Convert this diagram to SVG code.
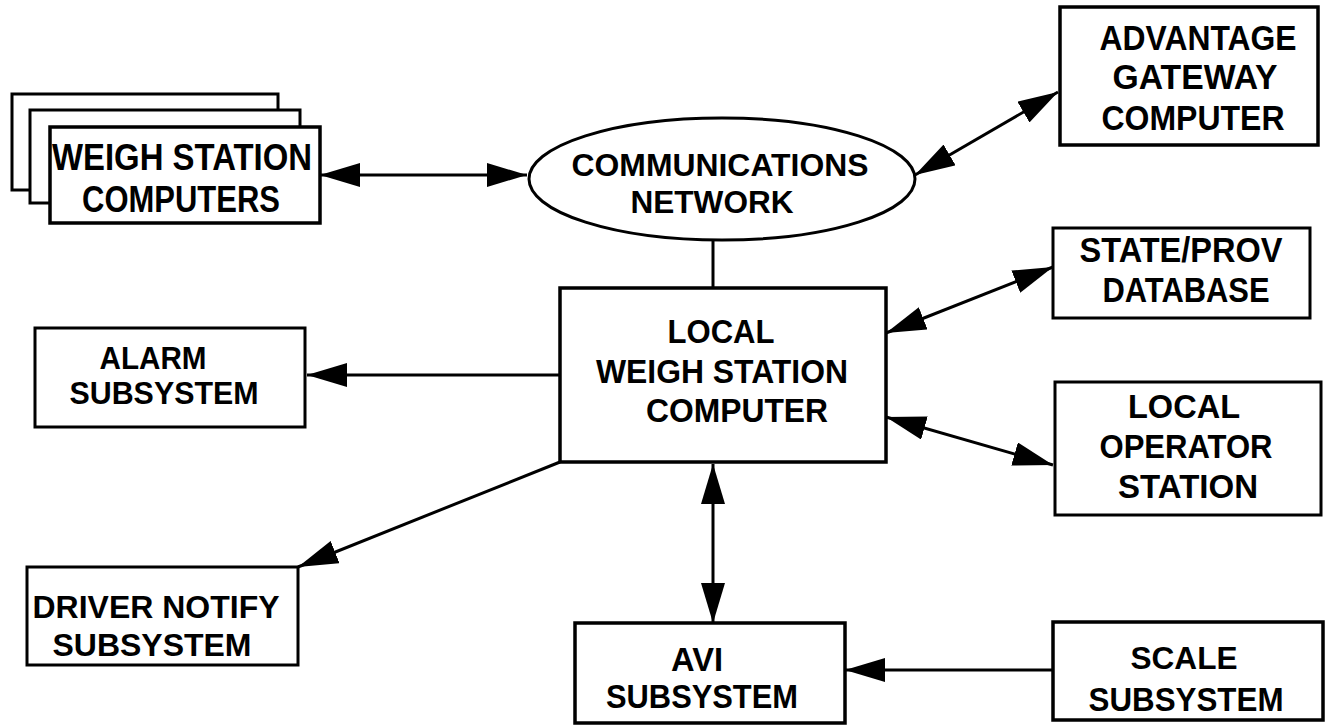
<svg xmlns="http://www.w3.org/2000/svg" width="1325" height="728" viewBox="0 0 1325 728">
  <style>
    .box { fill: #fff; stroke: #000; stroke-width: 3.5; }
    .thin { fill: #fff; stroke: #000; stroke-width: 3; }
    .lbl { font-family: "Liberation Sans", Arial, Helvetica, sans-serif; font-weight: bold; font-size: 34px; text-anchor: middle; fill: #000; }
    .wire { fill: none; stroke: #000; stroke-width: 3; }
  </style>
  <defs>
    <marker id="head" viewBox="0 0 40 24" refX="40" refY="12" markerWidth="40" markerHeight="24" markerUnits="userSpaceOnUse" orient="auto-start-reverse">
      <path d="M0,0 L40,12 L0,24 Z" fill="#000"/>
    </marker>
  </defs>
  <rect width="1325" height="728" fill="#fff"/>

  <!-- connectors -->
  <g id="connectors">
    <line class="wire" x1="320" y1="175" x2="527" y2="175" marker-start="url(#head)" marker-end="url(#head)"/>
    <line class="wire" x1="915" y1="175" x2="1058" y2="92" marker-start="url(#head)" marker-end="url(#head)"/>
    <line class="wire" x1="713" y1="240" x2="713" y2="288"/>
    <line class="wire" x1="886" y1="333" x2="1053" y2="267" marker-start="url(#head)" marker-end="url(#head)"/>
    <line class="wire" x1="886" y1="417" x2="1053" y2="465" marker-start="url(#head)" marker-end="url(#head)"/>
    <line class="wire" x1="713" y1="464" x2="713" y2="623" marker-start="url(#head)" marker-end="url(#head)"/>
    <line class="wire" x1="560" y1="375" x2="307" y2="375" marker-end="url(#head)"/>
    <line class="wire" x1="560" y1="462" x2="298" y2="567" marker-end="url(#head)"/>
    <line class="wire" x1="1053" y1="670" x2="845" y2="670" marker-end="url(#head)"/>
  </g>

  <!-- stacked weigh station computers -->
  <g id="weigh-station-computers">
    <rect class="thin" x="12" y="94" width="266" height="96"/>
    <rect class="thin" x="30" y="110" width="270" height="93"/>
    <rect class="box" x="50" y="127" width="270" height="96"/>
    <text class="lbl" style="font-size:37px" x="182" y="170" textLength="260" lengthAdjust="spacingAndGlyphs">WEIGH STATION</text>
    <text class="lbl" style="font-size:36px" x="181" y="212" textLength="198" lengthAdjust="spacingAndGlyphs">COMPUTERS</text>
  </g>

  <g id="communications-network">
    <ellipse cx="722" cy="179" rx="193" ry="61" fill="#fff" stroke="#000" stroke-width="3"/>
    <text class="lbl" style="font-size:32px" x="720" y="176" textLength="297" lengthAdjust="spacingAndGlyphs">COMMUNICATIONS</text>
    <text class="lbl" style="font-size:32px" x="712" y="213" textLength="163" lengthAdjust="spacingAndGlyphs">NETWORK</text>
  </g>

  <g id="advantage-gateway-computer">
    <rect class="box" x="1060" y="7" width="258" height="138"/>
    <text class="lbl" style="font-size:35px" x="1198" y="50" textLength="197" lengthAdjust="spacingAndGlyphs">ADVANTAGE</text>
    <text class="lbl" style="font-size:35px" x="1195" y="89" textLength="165" lengthAdjust="spacingAndGlyphs">GATEWAY</text>
    <text class="lbl" style="font-size:35px" x="1193" y="130" textLength="183" lengthAdjust="spacingAndGlyphs">COMPUTER</text>
  </g>

  <g id="local-weigh-station-computer">
    <rect class="box" x="560" y="288" width="326" height="174"/>
    <text class="lbl" x="721" y="343" textLength="107" lengthAdjust="spacingAndGlyphs">LOCAL</text>
    <text class="lbl" x="722" y="383" textLength="252" lengthAdjust="spacingAndGlyphs">WEIGH STATION</text>
    <text class="lbl" x="737" y="422" textLength="182" lengthAdjust="spacingAndGlyphs">COMPUTER</text>
  </g>

  <g id="alarm-subsystem">
    <rect class="thin" x="35" y="328" width="270" height="99"/>
    <text class="lbl" style="font-size:32px" x="153" y="369" textLength="107" lengthAdjust="spacingAndGlyphs">ALARM</text>
    <text class="lbl" style="font-size:32px" x="164" y="404" textLength="189" lengthAdjust="spacingAndGlyphs">SUBSYSTEM</text>
  </g>

  <g id="state-prov-database">
    <rect class="thin" x="1053" y="228" width="257" height="90"/>
    <text class="lbl" style="font-size:35px" x="1181" y="262" textLength="203" lengthAdjust="spacingAndGlyphs">STATE/PROV</text>
    <text class="lbl" style="font-size:35px" x="1186" y="302" textLength="167" lengthAdjust="spacingAndGlyphs">DATABASE</text>
  </g>

  <g id="local-operator-station">
    <rect class="thin" x="1055" y="382" width="266" height="133"/>
    <text class="lbl" style="font-size:33px" x="1184" y="418" textLength="112" lengthAdjust="spacingAndGlyphs">LOCAL</text>
    <text class="lbl" style="font-size:33px" x="1186" y="458" textLength="173" lengthAdjust="spacingAndGlyphs">OPERATOR</text>
    <text class="lbl" style="font-size:33px" x="1188" y="498" textLength="140" lengthAdjust="spacingAndGlyphs">STATION</text>
  </g>

  <g id="driver-notify-subsystem">
    <rect class="thin" x="27" y="567" width="271" height="98"/>
    <text class="lbl" style="font-size:31px" x="156" y="618" textLength="247" lengthAdjust="spacingAndGlyphs">DRIVER NOTIFY</text>
    <text class="lbl" style="font-size:31px" x="152" y="656" textLength="199" lengthAdjust="spacingAndGlyphs">SUBSYSTEM</text>
  </g>

  <g id="avi-subsystem">
    <rect class="box" x="575" y="623" width="270" height="100"/>
    <text class="lbl" style="font-size:33px" x="697" y="671" textLength="52" lengthAdjust="spacingAndGlyphs">AVI</text>
    <text class="lbl" style="font-size:34px" x="702" y="708" textLength="192" lengthAdjust="spacingAndGlyphs">SUBSYSTEM</text>
  </g>

  <g id="scale-subsystem">
    <rect class="box" x="1053" y="622" width="270" height="98"/>
    <text class="lbl" style="font-size:32px" x="1184" y="669" textLength="107" lengthAdjust="spacingAndGlyphs">SCALE</text>
    <text class="lbl" style="font-size:33px" x="1186" y="711" textLength="195" lengthAdjust="spacingAndGlyphs">SUBSYSTEM</text>
  </g>
</svg>
